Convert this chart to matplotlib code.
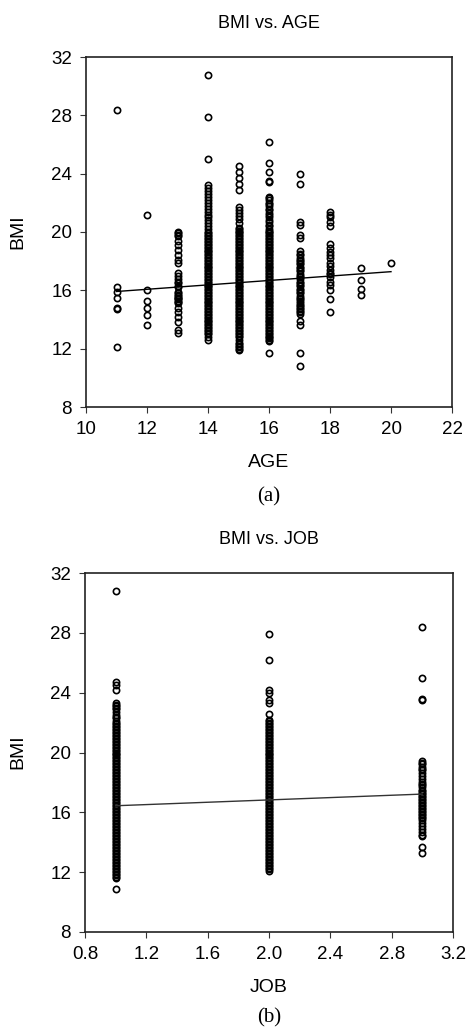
import matplotlib
matplotlib.use("Agg")
import matplotlib.pyplot as plt
import numpy as np

# ---------------- data: BMI by AGE ----------------
age_groups = [11, 12, 13, 14, 15, 16, 17, 18, 19, 20]
bmi_age11 = [28.4, 16.2, 15.9, 15.5, 14.8, 14.7, 12.1]
bmi_age12 = [21.2, 16.0, 15.3, 14.8, 14.3, 13.6]
bmi_age13 = [20.0, 19.9, 19.8, 19.7, 19.4, 19.1, 18.8, 18.4, 18.1, 17.9, 17.2,
             17.0, 16.8, 16.6, 16.5, 16.3, 16.2, 15.9, 15.8, 15.7, 15.6, 15.5,
             15.45, 15.4, 15.3, 15.2, 15.1, 14.8, 14.5, 14.2, 13.8, 13.3, 13.1]
bmi_age14 = [30.8, 27.9, 25.0, 23.2, 23.0, 22.8, 22.6, 22.4, 22.2, 22.0, 21.8,
             21.6, 21.4, 21.2, 21.0, 20.8, 20.6, 20.4, 20.2, 20.0, 19.9, 19.8,
             19.7, 19.6, 19.5, 19.4, 19.3, 19.2, 19.1, 19.0, 18.9, 18.8, 18.7,
             18.6, 18.5, 18.4, 18.3, 18.2, 18.1, 18.0, 17.9, 17.8, 17.7, 17.6,
             17.5, 17.4, 17.3, 17.2, 17.1, 17.0, 16.9, 16.8, 16.7, 16.6, 16.5,
             16.4, 16.3, 16.2, 16.1, 16.0, 15.9, 15.8, 15.7, 15.6, 15.5, 15.4,
             15.3, 15.2, 15.1, 15.0, 14.9, 14.8, 14.7, 14.6, 14.5, 14.4, 14.3,
             14.2, 14.1, 14.0, 13.9, 13.8, 13.7, 13.6, 13.5, 13.4, 13.3, 13.2,
             13.1, 13.0, 12.8, 12.6]
bmi_age15 = [24.5, 24.1, 23.7, 23.3, 22.9, 21.7, 21.5, 21.3, 21.1, 20.9, 20.6,
             20.3, 20.2, 20.1, 20.0, 19.9, 19.8, 19.7, 19.6, 19.5, 19.4, 19.3,
             19.2, 19.1, 19.0, 18.9, 18.8, 18.7, 18.6, 18.5, 18.4, 18.3, 18.2,
             18.1, 18.0, 17.9, 17.8, 17.7, 17.6, 17.5, 17.4, 17.3, 17.2, 17.1,
             17.0, 16.9, 16.8, 16.7, 16.6, 16.5, 16.4, 16.3, 16.2, 16.1, 16.0,
             15.9, 15.8, 15.7, 15.6, 15.5, 15.4, 15.3, 15.2, 15.1, 15.0, 14.9,
             14.8, 14.7, 14.6, 14.5, 14.4, 14.3, 14.2, 14.1, 14.0, 13.9, 13.8,
             13.7, 13.6, 13.5, 13.4, 13.3, 13.2, 13.1, 13.0, 12.9, 12.8, 12.6,
             12.4, 12.3, 12.2, 12.1, 12.0, 11.9]
bmi_age16 = [26.2, 24.7, 24.1, 23.5, 23.4, 22.4, 22.3, 22.2, 22.0, 21.9, 21.8,
             21.6, 21.5, 21.3, 21.2, 21.0, 20.8, 20.7, 20.5, 20.4, 20.2, 20.1,
             20.0, 19.9, 19.8, 19.7, 19.6, 19.5, 19.4, 19.3, 19.2, 19.1, 19.0,
             18.9, 18.8, 18.7, 18.6, 18.5, 18.4, 18.3, 18.2, 18.1, 18.0, 17.9,
             17.8, 17.7, 17.6, 17.5, 17.4, 17.3, 17.2, 17.1, 17.0, 16.9, 16.8,
             16.7, 16.6, 16.5, 16.4, 16.3, 16.2, 16.1, 16.0, 15.9, 15.8, 15.7,
             15.6, 15.5, 15.4, 15.3, 15.2, 15.1, 15.0, 14.9, 14.8, 14.7, 14.6,
             14.5, 14.4, 14.3, 14.2, 14.1, 14.0, 13.9, 13.8, 13.7, 13.6, 13.5,
             13.4, 13.3, 13.2, 13.1, 13.0, 12.9, 12.8, 12.7, 12.6, 12.5, 11.7]
bmi_age17 = [24.0, 23.3, 20.7, 20.5, 19.8, 19.6, 18.7, 18.5, 18.4, 18.2, 18.1,
             18.0, 17.9, 17.8, 17.6, 17.5, 17.4, 17.3, 17.1, 17.0, 16.9, 16.8,
             16.6, 16.5, 16.4, 16.3, 16.1, 16.0, 15.9, 15.8, 15.6, 15.5, 15.4,
             15.3, 15.1, 15.0, 14.9, 14.8, 14.7, 14.6, 14.5, 14.4, 13.9, 13.6,
             11.7, 10.8]
bmi_age18 = [21.4, 21.2, 21.0, 20.7, 20.4, 19.2, 18.9, 18.6, 18.4, 18.2, 17.9,
             17.7, 17.4, 17.2, 17.1, 16.9, 16.6, 16.4, 16.0, 15.4, 14.5]
bmi_age19 = [17.5, 16.7, 16.1, 15.7]
bmi_age20 = [17.9]
bmi_by_age = [bmi_age11, bmi_age12, bmi_age13, bmi_age14, bmi_age15,
              bmi_age16, bmi_age17, bmi_age18, bmi_age19, bmi_age20]
fit_age_x = [11, 20]
fit_age_y = [15.92, 17.28]

# ---------------- data: BMI by JOB ----------------
job_groups = [1, 2, 3]
bmi_job1 = [30.8, 24.7, 24.5, 24.2, 23.3, 23.2, 23.1, 23.0, 22.9, 22.7, 22.5,
            22.4, 22.3, 22.1, 22.0, 21.9, 21.8, 21.7, 21.6, 21.5, 21.4, 21.3,
            21.2, 21.1, 21.0, 20.9, 20.8, 20.7, 20.6, 20.5, 20.4, 20.3, 20.2,
            20.1, 20.0, 19.9, 19.8, 19.7, 19.6, 19.5, 19.4, 19.3, 19.2, 19.1,
            19.0, 18.9, 18.8, 18.7, 18.6, 18.5, 18.4, 18.3, 18.2, 18.1, 18.0,
            17.9, 17.8, 17.7, 17.6, 17.5, 17.4, 17.3, 17.2, 17.1, 17.0, 16.9,
            16.8, 16.7, 16.6, 16.5, 16.4, 16.3, 16.2, 16.1, 16.0, 15.9, 15.8,
            15.7, 15.6, 15.5, 15.4, 15.3, 15.2, 15.1, 15.0, 14.9, 14.8, 14.7,
            14.6, 14.5, 14.4, 14.3, 14.2, 14.1, 14.0, 13.9, 13.8, 13.7, 13.6,
            13.5, 13.4, 13.3, 13.2, 13.1, 13.0, 12.9, 12.8, 12.7, 12.6, 12.5,
            12.4, 12.3, 12.2, 12.1, 12.0, 11.9, 11.8, 11.7, 11.6, 10.9]
bmi_job2 = [27.9, 26.2, 24.2, 24.0, 23.5, 23.3, 22.6, 22.2, 22.1, 22.0, 21.9,
            21.8, 21.7, 21.6, 21.5, 21.4, 21.3, 21.2, 21.1, 21.0, 20.9, 20.8,
            20.7, 20.6, 20.5, 20.4, 20.3, 20.2, 20.1, 20.0, 19.9, 19.8, 19.7,
            19.6, 19.5, 19.4, 19.3, 19.2, 19.1, 19.0, 18.9, 18.8, 18.7, 18.6,
            18.5, 18.4, 18.3, 18.2, 18.1, 18.0, 17.9, 17.8, 17.7, 17.6, 17.5,
            17.4, 17.3, 17.2, 17.1, 17.0, 16.9, 16.8, 16.7, 16.6, 16.5, 16.4,
            16.3, 16.2, 16.1, 16.0, 15.9, 15.8, 15.7, 15.6, 15.5, 15.4, 15.3,
            15.2, 15.1, 15.0, 14.9, 14.8, 14.7, 14.6, 14.5, 14.4, 14.3, 14.2,
            14.1, 14.0, 13.9, 13.8, 13.7, 13.6, 13.5, 13.4, 13.3, 13.2, 13.1,
            13.0, 12.9, 12.8, 12.7, 12.6, 12.5, 12.4, 12.3, 12.2, 12.1]
bmi_job3 = [28.4, 25.0, 23.6, 23.5, 19.4, 19.3, 19.2, 19.0, 18.9, 18.8, 18.6,
            18.4, 18.2, 18.0, 17.9, 17.8, 17.7, 17.5, 17.4, 17.3, 17.2, 17.1,
            17.0, 16.9, 16.8, 16.7, 16.6, 16.5, 16.4, 16.3, 16.2, 16.1, 16.0,
            15.9, 15.8, 15.7, 15.6, 15.5, 15.3, 15.1, 14.9, 14.7, 14.5, 14.4,
            13.7, 13.3]
bmi_by_job = [bmi_job1, bmi_job2, bmi_job3]
fit_job_x = [1, 3]
fit_job_y = [16.44, 17.22]

age_ticks = [10, 12, 14, 16, 18, 20, 22]
job_ticks = [0.8, 1.2, 1.6, 2.0, 2.4, 2.8, 3.2]
bmi_ticks = [8, 12, 16, 20, 24, 28, 32]

# ---------------- drawing ----------------
plt.rcParams['font.family'] = ['Liberation Sans', 'DejaVu Sans']

W, H = 469, 1030
fig = plt.figure(figsize=(W / 100, H / 100), dpi=100)


def px_axes(left, top, right, bottom):
    return fig.add_axes([left / W, 1 - bottom / H, (right - left) / W, (bottom - top) / H])


def style(ax, xticks, xlim, xfmt):
    ax.set_xlim(*xlim)
    ax.set_ylim(8, 32)
    ax.set_xticks(xticks)
    ax.set_xticklabels([xfmt(t) for t in xticks])
    ax.set_yticks(bmi_ticks)
    ax.tick_params(axis='both', direction='out', length=4, width=0.8,
                   labelsize=13.5, pad=6, top=False, right=False, color='#333333')
    for s in ax.spines.values():
        s.set_linewidth(1.2)
        s.set_color('#222222')


mk = dict(ls='none', marker='o', mfc='none', mec='black', ms=4.5, mew=1.2)

ax1 = px_axes(86, 57, 452, 407)
for a, vals in zip(age_groups, bmi_by_age):
    ax1.plot([a] * len(vals), vals, **mk)
ax1.plot(fit_age_x, fit_age_y, color='black', lw=1.0)
style(ax1, age_ticks, (10, 22), lambda t: f"{t:d}")

ax2 = px_axes(85, 573, 453, 932)
for j, vals in zip(job_groups, bmi_by_job):
    ax2.plot([j] * len(vals), vals, **mk)
ax2.plot(fit_job_x, fit_job_y, color='#333333', lw=1.0)
style(ax2, job_ticks, (0.8, 3.2), lambda t: f"{t:.1f}")

def ftext(x, y, s, **kw):
    fig.text(x / W, 1 - y / H, s, ha='center', va='center', **kw)

ftext(269, 24, "BMI vs. AGE", fontsize=13)
ftext(269, 463, "AGE", fontsize=14)
ftext(269, 497, "(a)", fontsize=15, family='Liberation Serif')
ftext(18, 232, "BMI", fontsize=14, rotation=90)

ftext(269, 539, "BMI vs. JOB", fontsize=13)
ftext(269, 988, "JOB", fontsize=14)
ftext(269, 1018, "(b)", fontsize=15, family='Liberation Serif')
ftext(18, 752, "BMI", fontsize=14, rotation=90)

fig.savefig("out.png", dpi=100, facecolor='white')
